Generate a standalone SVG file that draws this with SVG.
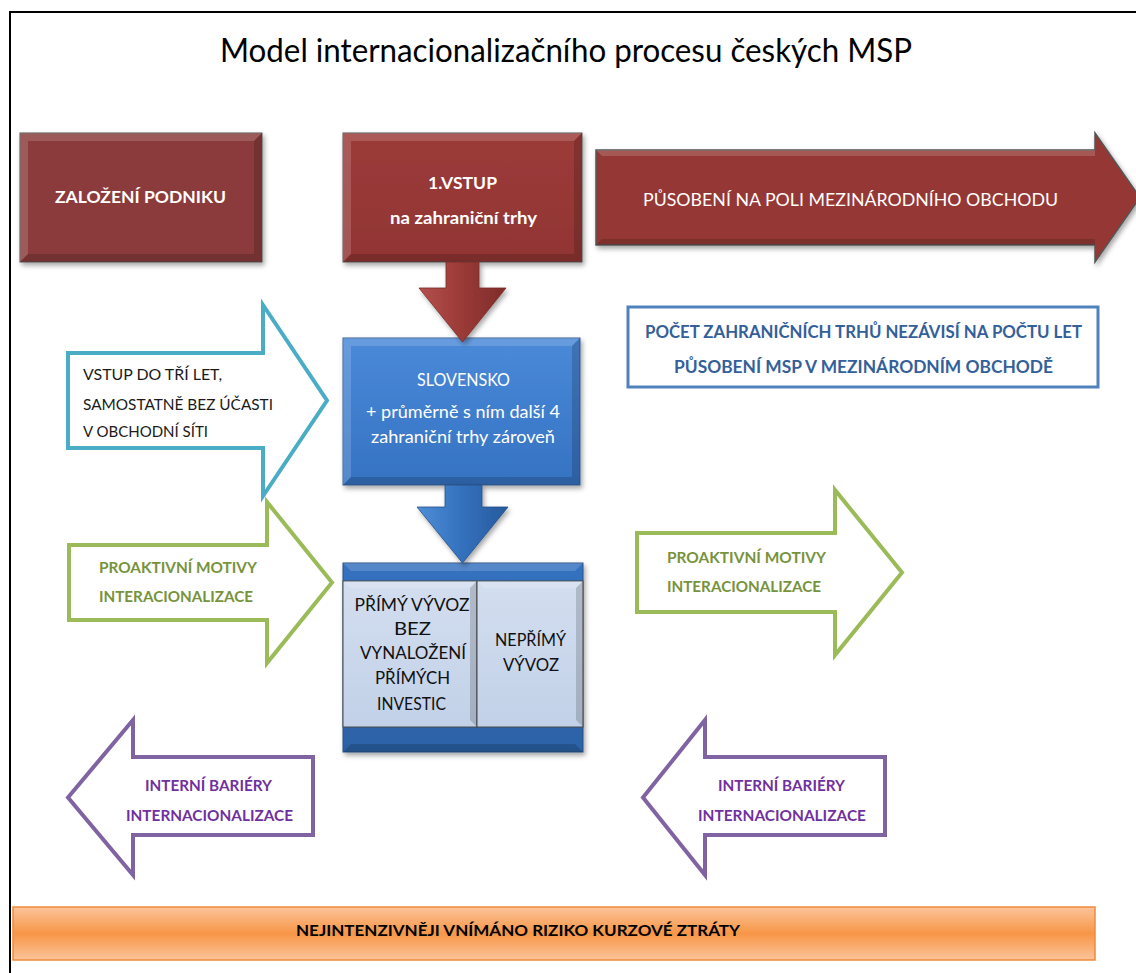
<svg xmlns="http://www.w3.org/2000/svg" width="1136" height="973" viewBox="0 0 1136 973">
  <style>
    text { font-family: Lato, "Liberation Sans", sans-serif; }
    .title { font-size: 32px; fill: #000; }
    .wb { font-size: 17.5px; font-weight: bold; fill: #fff; }
    .wr { font-size: 17px; fill: #fff; }
    .dark { font-size: 15.5px; fill: #1a1a1a; }
    .panel { font-size: 17.5px; fill: #111; }
    .note { font-size: 16.5px; font-weight: bold; fill: #34609a; }
    .green { font-size: 15.5px; font-weight: bold; fill: #77933c; }
    .purple { font-size: 15.5px; font-weight: bold; fill: #7030a0; }
    .risk { font-size: 16px; font-weight: bold; fill: #000; }
    .hi { fill: #fff; opacity: 0.16; }
    .lo { fill: #000; opacity: 0.16; }
    .outline-cyan { fill: #fff; stroke: #4bacc6; stroke-width: 4; }
    .outline-green { fill: #fff; stroke: #9bbb59; stroke-width: 4; }
    .outline-purple { fill: #fff; stroke: #8064a2; stroke-width: 4; }
  </style>
  <defs>
    <filter id="shadow" x="-10%" y="-10%" width="130%" height="130%">
      <feDropShadow dx="2" dy="3" stdDeviation="2.5" flood-color="#000" flood-opacity="0.35"/>
    </filter>
    <linearGradient id="gRed" x1="0" y1="0" x2="0" y2="1">
      <stop offset="0" stop-color="#9c3b39"/>
      <stop offset="1" stop-color="#913533"/>
    </linearGradient>
    <linearGradient id="gBlue" x1="0" y1="0" x2="0" y2="1">
      <stop offset="0" stop-color="#4a8ad9"/>
      <stop offset="1" stop-color="#3572c2"/>
    </linearGradient>
    <linearGradient id="gBlueDark" x1="0" y1="0" x2="0" y2="1">
      <stop offset="0" stop-color="#3472c0"/>
      <stop offset="1" stop-color="#2c62a6"/>
    </linearGradient>
    <linearGradient id="gPanel" x1="0" y1="0" x2="0" y2="1">
      <stop offset="0" stop-color="#d3deef"/>
      <stop offset="1" stop-color="#c2d1e8"/>
    </linearGradient>
    <linearGradient id="gOrange" x1="0" y1="0" x2="0" y2="1">
      <stop offset="0" stop-color="#fbc49b"/>
      <stop offset="0.5" stop-color="#f79646"/>
      <stop offset="1" stop-color="#fbc49b"/>
    </linearGradient>
    <linearGradient id="gRedArrow" x1="0" y1="0" x2="1" y2="0">
      <stop offset="0" stop-color="#b4504d"/>
      <stop offset="0.5" stop-color="#9a3a37"/>
      <stop offset="1" stop-color="#7e2c2a"/>
    </linearGradient>
    <linearGradient id="gBlueArrow" x1="0" y1="0" x2="1" y2="0">
      <stop offset="0" stop-color="#4f8fd6"/>
      <stop offset="0.5" stop-color="#3470bd"/>
      <stop offset="1" stop-color="#275a9c"/>
    </linearGradient>
  </defs>

  <!-- page frame -->
  <rect x="10" y="12" width="1140" height="980" fill="none" stroke="#000" stroke-width="2"/>

  <text class="title" x="566" y="62" text-anchor="middle" textLength="692" lengthAdjust="spacingAndGlyphs">Model internacionalizačního procesu českých MSP</text>

  <!-- founding of the company -->
  <g id="zalozeni">
    <rect x="20" y="133" width="242" height="129" fill="#8b3a3a" stroke="#555" stroke-width="1" filter="url(#shadow)"/>
    <polygon class="hi" points="20,133 262,133 254,141 28,141"/>
    <polygon class="hi" points="20,133 28,141 28,254 20,262"/>
    <polygon class="lo" points="262,133 262,262 254,254 254,141"/>
    <polygon class="lo" points="20,262 262,262 254,254 28,254"/>
    <text class="wb" x="140.5" y="203" text-anchor="middle" textLength="171" lengthAdjust="spacingAndGlyphs">ZALOŽENÍ PODNIKU</text>
  </g>

  <!-- first entry -->
  <g id="vstup">
    <rect x="343" y="133" width="239" height="129" fill="url(#gRed)" stroke="#555" stroke-width="1" filter="url(#shadow)"/>
    <polygon class="hi" points="343,133 582,133 574,141 351,141"/>
    <polygon class="hi" points="343,133 351,141 351,254 343,262"/>
    <polygon class="lo" points="582,133 582,262 574,254 574,141"/>
    <polygon class="lo" points="343,262 582,262 574,254 351,254"/>
    <text class="wb" x="462.5" y="189" text-anchor="middle" textLength="69" lengthAdjust="spacingAndGlyphs">1.VSTUP</text>
    <text class="wb" x="463.5" y="224" text-anchor="middle" textLength="147" lengthAdjust="spacingAndGlyphs">na zahraniční trhy</text>
  </g>

  <!-- international trade arrow -->
  <g id="pusobeni">
    <polygon points="596,150 1095,150 1095,133 1140,197.5 1095,262 1095,245 596,245" fill="#953735" stroke="#555" stroke-width="1.5" filter="url(#shadow)"/>
    <polygon class="hi" points="596,150 1095,150 1095,156 602,156"/>
    <polygon class="lo" points="596,245 1095,245 1095,239 602,239"/>
    <text class="wr" x="850.5" y="206" text-anchor="middle" textLength="415" lengthAdjust="spacingAndGlyphs">PŮSOBENÍ NA POLI MEZINÁRODNÍHO  OBCHODU</text>
  </g>

  <!-- Slovakia -->
  <g id="slovensko">
    <rect x="343" y="338" width="237" height="147" fill="url(#gBlue)" stroke="#3a5f8f" stroke-width="1" filter="url(#shadow)"/>
    <polygon class="hi" points="343,338 580,338 572,346 351,346"/>
    <polygon class="hi" points="343,338 351,346 351,477 343,485"/>
    <polygon class="lo" points="580,338 580,485 572,477 572,346"/>
    <polygon class="lo" points="343,485 580,485 572,477 351,477"/>
    <text class="wr" x="463.5" y="386" text-anchor="middle" textLength="93" lengthAdjust="spacingAndGlyphs">SLOVENSKO</text>
    <text class="wr" x="463" y="418" text-anchor="middle" textLength="194" lengthAdjust="spacingAndGlyphs">+ průměrně s ním další 4</text>
    <text class="wr" x="463" y="443" text-anchor="middle" textLength="184" lengthAdjust="spacingAndGlyphs">zahraniční trhy zároveň</text>
  </g>

  <!-- export forms -->
  <g id="vyvoz">
    <rect x="343" y="563" width="240" height="189" fill="url(#gBlueDark)" stroke="#2a4f80" stroke-width="1" filter="url(#shadow)"/>
    <polygon class="hi" points="343,563 583,563 575,571 351,571"/>
    <polygon class="lo" points="343,752 583,752 575,744 351,744"/>
    <rect x="343" y="581" width="134" height="146" fill="url(#gPanel)" stroke="#4a4a4a" stroke-width="1"/>
    <rect x="477" y="581" width="106" height="146" fill="url(#gPanel)" stroke="#4a4a4a" stroke-width="1"/>
    <polygon class="hi" points="343,581 477,581 470,588 350,588"/>
    <polygon class="lo" points="477,581 477,727 470,720 470,588"/>
    <polygon class="hi" points="477,581 583,581 576,588 484,588"/>
    <polygon class="lo" points="583,581 583,727 576,720 576,588"/>
    <text class="panel" x="412" y="611" text-anchor="middle" textLength="115" lengthAdjust="spacingAndGlyphs">PŘÍMÝ VÝVOZ</text>
    <text class="panel" x="412.5" y="635" text-anchor="middle" textLength="37" lengthAdjust="spacingAndGlyphs">BEZ</text>
    <text class="panel" x="413" y="659" text-anchor="middle" textLength="106" lengthAdjust="spacingAndGlyphs">VYNALOŽENÍ</text>
    <text class="panel" x="412.5" y="684" text-anchor="middle" textLength="75" lengthAdjust="spacingAndGlyphs">PŘÍMÝCH</text>
    <text class="panel" x="411.5" y="710" text-anchor="middle" textLength="69" lengthAdjust="spacingAndGlyphs">INVESTIC</text>
    <text class="panel" x="530.5" y="646" text-anchor="middle" textLength="71" lengthAdjust="spacingAndGlyphs">NEPŘÍMÝ</text>
    <text class="panel" x="531" y="671" text-anchor="middle" textLength="56" lengthAdjust="spacingAndGlyphs">VÝVOZ</text>
  </g>

  <!-- entry within three years -->
  <g id="vstup-tri-let">
    <polygon class="outline-cyan" points="68,353 263,353 263,305 327,400.5 263,496 263,448 68,448"/>
    <text class="dark" x="83" y="380" textLength="139" lengthAdjust="spacingAndGlyphs">VSTUP DO TŘÍ LET,</text>
    <text class="dark" x="83" y="410" textLength="190" lengthAdjust="spacingAndGlyphs">SAMOSTATNĚ BEZ ÚČASTI</text>
    <text class="dark" x="83" y="437" textLength="125" lengthAdjust="spacingAndGlyphs">V OBCHODNÍ SÍTI</text>
  </g>

  <!-- number of markets note -->
  <g id="pocet-trhu">
    <rect x="628" y="307" width="470" height="80" fill="#fff" stroke="#4f81bd" stroke-width="3"/>
    <text class="note" x="863.5" y="338" text-anchor="middle" textLength="437" lengthAdjust="spacingAndGlyphs">POČET ZAHRANIČNÍCH TRHŮ NEZÁVISÍ NA POČTU LET</text>
    <text class="note" x="863.5" y="373" text-anchor="middle" textLength="379" lengthAdjust="spacingAndGlyphs">PŮSOBENÍ MSP V MEZINÁRODNÍM OBCHODĚ</text>
  </g>

  <!-- proactive motives -->
  <g id="proaktivni-vlevo">
    <polygon class="outline-green" points="69,545 267,545 267,502 332,582.5 267,663 267,620 69,620"/>
    <text class="green" x="99" y="573" textLength="158" lengthAdjust="spacingAndGlyphs">PROAKTIVNÍ MOTIVY</text>
    <text class="green" x="99" y="602" textLength="154" lengthAdjust="spacingAndGlyphs">INTERACIONALIZACE</text>
  </g>
  <g id="proaktivni-vpravo">
    <polygon class="outline-green" points="637,533 835,533 835,490 902,572.5 835,655 835,612 637,612"/>
    <text class="green" x="667" y="563" textLength="159" lengthAdjust="spacingAndGlyphs">PROAKTIVNÍ MOTIVY</text>
    <text class="green" x="667" y="592" textLength="154" lengthAdjust="spacingAndGlyphs">INTERACIONALIZACE</text>
  </g>

  <!-- internal barriers -->
  <g id="bariery-vlevo">
    <polygon class="outline-purple" points="313,757 133,757 133,720 68,797.5 133,875 133,835 313,835"/>
    <text class="purple" x="208.5" y="791" text-anchor="middle" textLength="127" lengthAdjust="spacingAndGlyphs">INTERNÍ BARIÉRY</text>
    <text class="purple" x="209.5" y="821" text-anchor="middle" textLength="167" lengthAdjust="spacingAndGlyphs">INTERNACIONALIZACE</text>
  </g>
  <g id="bariery-vpravo">
    <polygon class="outline-purple" points="885,757 705,757 705,720 643,797.5 705,875 705,835 885,835"/>
    <text class="purple" x="781.5" y="791" text-anchor="middle" textLength="127" lengthAdjust="spacingAndGlyphs">INTERNÍ BARIÉRY</text>
    <text class="purple" x="782" y="821" text-anchor="middle" textLength="168" lengthAdjust="spacingAndGlyphs">INTERNACIONALIZACE</text>
  </g>

  <!-- exchange-rate risk -->
  <g id="kurzove-riziko">
    <rect x="13" y="907" width="1082" height="53" fill="url(#gOrange)" stroke="#f08a3a" stroke-width="1.5"/>
    <text class="risk" x="518" y="936" text-anchor="middle" textLength="444" lengthAdjust="spacingAndGlyphs">NEJINTENZIVNĚJI VNÍMÁNO RIZIKO KURZOVÉ ZTRÁTY</text>
  </g>

  <!-- block arrows between stages -->
  <g id="connectors">
    <polygon points="446,262 479,262 479,288 506,288 462.5,342 419,288 446,288" fill="url(#gRedArrow)" stroke="#7a2a28" stroke-width="0.8" filter="url(#shadow)"/>
    <polygon points="445,485 482,485 482,507 508,507 462.5,563 417,507 445,507" fill="url(#gBlueArrow)" stroke="#234e88" stroke-width="0.8" filter="url(#shadow)"/>
  </g>
</svg>
